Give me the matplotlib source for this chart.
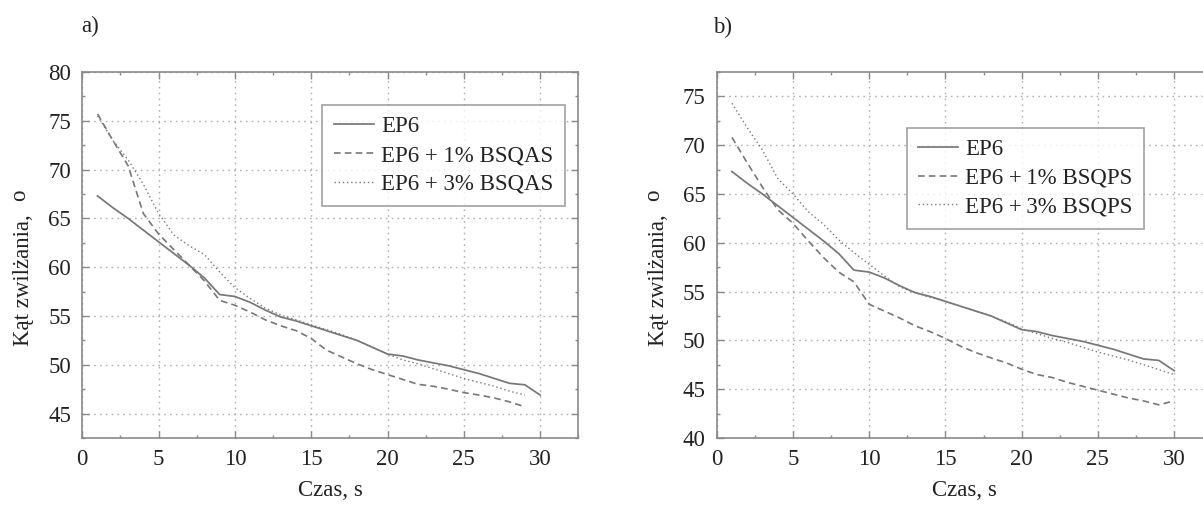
import matplotlib
matplotlib.use("Agg")
import matplotlib.pyplot as plt
from matplotlib.ticker import MultipleLocator

plt.rcParams['font.family'] = ['Liberation Serif', 'DejaVu Serif']

# ---- data ----
time_ep6 = list(range(1, 31))
ep6 = [67.3, 66.1, 65.0, 63.8, 62.6, 61.4, 60.2, 58.9, 57.2, 57.0,
       56.4, 55.6, 54.9, 54.5, 54.0, 53.5, 53.0, 52.5, 51.8, 51.1,
       50.9, 50.5, 50.2, 49.9, 49.5, 49.1, 48.6, 48.1, 47.95, 46.9]

time_a = list(range(1, 30))
bsqas_1 = [75.7, 73.0, 70.4, 65.5, 63.4, 61.8, 60.2, 58.6, 56.6, 56.1,
           55.4, 54.6, 54.0, 53.5, 52.7, 51.5, 50.8, 50.1, 49.5, 49.0,
           48.5, 48.0, 47.8, 47.5, 47.15, 46.9, 46.6, 46.2, 45.7]
bsqas_3 = [75.5, 73.0, 71.0, 68.5, 65.5, 63.3, 62.2, 61.3, 59.5, 57.9,
           56.8, 55.8, 55.1, 54.6, 54.1, 53.6, 53.1, 52.5, 51.8, 51.1,
           50.5, 50.1, 49.6, 49.1, 48.6, 48.2, 47.8, 47.3, 46.9]

time_b = list(range(1, 31))
bsqps_1 = [70.8, 68.2, 65.7, 63.4, 62.0, 60.2, 58.5, 57.0, 56.0, 53.7,
           53.0, 52.3, 51.5, 50.9, 50.2, 49.4, 48.75, 48.2, 47.7, 47.05,
           46.5, 46.2, 45.7, 45.3, 44.9, 44.5, 44.1, 43.8, 43.4, 43.8]
bsqps_3 = [74.3, 71.8, 69.5, 66.6, 65.0, 63.2, 61.9, 60.3, 59.0, 57.8,
           56.6, 55.5, 54.9, 54.4, 54.0, 53.5, 53.0, 52.5, 51.9, 51.2,
           50.7, 50.2, 49.8, 49.3, 48.8, 48.4, 48.0, 47.5, 47.0, 46.5]

labels_a = ["EP6", "EP6 + 1% BSQAS", "EP6 + 3% BSQAS"]
labels_b = ["EP6", "EP6 +\u20091% BSQPS", "EP6 +\u20093% BSQPS"]
xticks = [0, 5, 10, 15, 20, 25, 30]
yticks_a = [45, 50, 55, 60, 65, 70, 75, 80]
yticks_b = [40, 45, 50, 55, 60, 65, 70, 75]
xlabel = "Czas, s"
ylabel = "Kąt zwilżania,"
ylabel_unit = "o"

# ---- styling ----
FS = 16.5
TXT = '#222222'
LINE = '#777777'
SPINE = '#8a8a8a'
GRID = '#b0b0b0'

W, H = 1203, 507
fig = plt.figure(figsize=(W / 100, H / 100), dpi=100)


def px_axes(l, t, r, b):
    return fig.add_axes([l / W, 1 - b / H, (r - l) / W, (b - t) / H])


def style(ax, yt, ylim):
    ax.set_xlim(0, 32.5)
    ax.set_ylim(*ylim)
    ax.set_xticks(xticks)
    ax.set_yticks(yt)
    ax.xaxis.set_minor_locator(MultipleLocator(2.5))
    ax.yaxis.set_minor_locator(MultipleLocator(2.5))
    ax.tick_params(which='both', direction='in', top=True, right=True,
                   color=SPINE, labelsize=FS, labelcolor=TXT, width=1.0)
    ax.tick_params(which='major', length=5, pad=8)
    ax.tick_params(which='minor', length=2.5)
    for s in ax.spines.values():
        s.set_color(SPINE)
        s.set_linewidth(1.2)
    ax.grid(True, which='major', color=GRID, linestyle=(0, (1.2, 3)), linewidth=1.0)
    ax.set_axisbelow(True)
    ax.set_xlabel(xlabel, fontsize=FS, color=TXT, va='top')
    ax.xaxis.set_label_coords(0.5, -0.116)
    ax.set_ylabel(ylabel, fontsize=FS, color=TXT)
    ax.yaxis.set_label_coords(-0.097, 0.432)
    ax.text(-0.127, 0.664, ylabel_unit, transform=ax.transAxes, rotation=90,
            fontsize=FS, color=TXT, ha='center', va='center')


def draw(ax, xs, ys_list, labels, anchor):
    t1, y1, t2, y2, t3, y3 = xs[0], ys_list[0], xs[1], ys_list[1], xs[2], ys_list[2]
    ax.plot(t1, y1, color=LINE, lw=1.25, linestyle='-', label=labels[0])
    ax.plot(t2, y2, color=LINE, lw=1.2, linestyle=(0, (4, 2.5)), label=labels[1])
    ax.plot(t3, y3, color=LINE, lw=1.0, linestyle=(0, (1, 2)), label=labels[2])
    leg = ax.legend(loc='upper left', bbox_to_anchor=anchor, fontsize=FS,
                    frameon=True, fancybox=False, shadow=False,
                    handlelength=1.75, handletextpad=0.3, borderpad=0.5,
                    labelspacing=0.33, borderaxespad=0)
    fr = leg.get_frame()
    fr.set_edgecolor(SPINE)
    fr.set_linewidth(1.2)
    for t in leg.get_texts():
        t.set_color(TXT)


ax_a = px_axes(82.3, 72, 578.3, 438)
style(ax_a, yticks_a, (42.5, 80))
draw(ax_a, [time_ep6, time_a, time_a], [ep6, bsqas_1, bsqas_3], labels_a, (0.484, 0.91))

ax_b = px_axes(716.7, 72, 716.7 + 495.5, 438)
style(ax_b, yticks_b, (40, 77.5))
draw(ax_b, [time_ep6, time_b, time_b], [ep6, bsqps_1, bsqps_3], labels_b, (0.3837, 0.848))

fig.text(90 / W, 1 - 26 / H, "a)", fontsize=FS, color=TXT, ha='center', va='center')
fig.text(723 / W, 1 - 27 / H, "b)", fontsize=FS, color=TXT, ha='center', va='center')

fig.savefig("out.png", dpi=100)
